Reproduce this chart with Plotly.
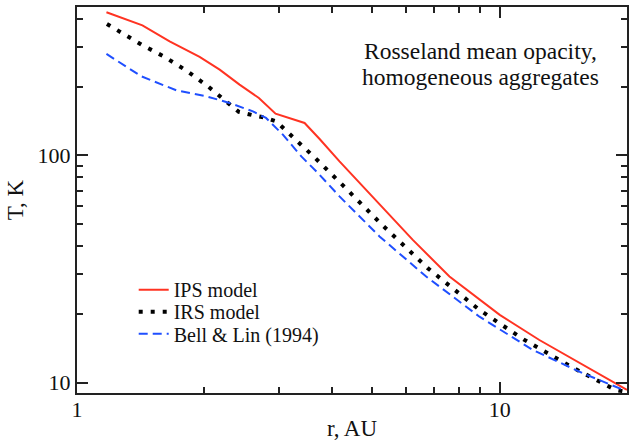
import plotly.graph_objects as go

# IPS model (red solid)
r_ips = [1.174, 1.428, 1.656, 1.950, 2.175, 2.424, 2.693, 2.949, 3.454, 3.749, 4.178, 5.195, 6.228, 7.604, 10.0, 12.41, 15.71, 20.0]
T_ips = [426.6, 373.8, 317.8, 271.3, 238.5, 204.9, 179.0, 152.7, 138.9, 118.1, 94.1, 60.7, 42.5, 29.3, 19.87, 15.4, 11.97, 9.29]

# IRS model (black dotted)
r_irs = [1.177, 1.420, 1.612, 1.820, 2.045, 2.288, 2.414, 2.588, 2.767, 2.960, 3.289, 3.467, 3.653, 4.256, 5.215, 6.756, 8.954, 11.38, 14.62, 18.77, 20.0]
T_irs = [379.0, 307.4, 271.3, 235.4, 200.7, 169.0, 155.4, 150.7, 147.0, 141.2, 117.6, 107.8, 97.7, 73.8, 50.4, 31.9, 20.9, 15.5, 11.85, 9.29, 9.1]

# Bell & Lin (1994) (blue dashed)
r_bl = [1.174, 1.420, 1.718, 2.023, 2.296, 2.607, 2.800, 3.069, 3.393, 3.713, 4.178, 5.195, 6.699, 8.954, 11.97, 15.71, 19.8]
T_bl = [279.7, 222.8, 193.4, 182.0, 170.2, 156.2, 146.2, 123.4, 99.0, 83.7, 66.0, 44.0, 29.3, 19.5, 13.93, 11.0, 9.22]

x_tickvals = [1, 10]
x_ticktext = ["1", "10"]
x_minor = [2, 3, 4, 5, 6, 7, 8, 9, 20]
y_tickvals = [10, 100]
y_ticktext = ["10", "100"]
y_minor = [20, 30, 40, 50, 60, 70, 80, 90, 200, 300, 400]

FONT = "Liberation Serif"
RED = "#ff3322"
BLUE = "#1f4fff"

fig = go.Figure()
fig.add_trace(go.Scatter(x=r_ips, y=T_ips, mode="lines", name="IPS model",
                         line=dict(color=RED, width=2), legend="legend"))
fig.add_trace(go.Scatter(x=r_irs, y=T_irs, mode="lines", name="IRS model",
                         line=dict(color="black", width=4, dash="4px,8px"), legend="legend2"))
fig.add_trace(go.Scatter(x=r_bl, y=T_bl, mode="lines", name="Bell & Lin (1994)",
                         line=dict(color=BLUE, width=2, dash="9px,5px"), legend="legend3"))

axis_common = dict(
    type="log", showgrid=False, zeroline=False, showline=True, linewidth=2,
    linecolor="#222", mirror="allticks", ticks="inside", ticklen=11, tickwidth=1.5,
    tickcolor="#222", tickfont=dict(family=FONT, size=22, color="#111"), automargin=False,
)

fig.update_xaxes(**axis_common, range=[0, 1.30103], tickvals=x_tickvals, ticktext=x_ticktext,
                 ticklabelstandoff=-4,
                 minor=dict(tickvals=x_minor, ticks="inside", ticklen=6, tickwidth=1.5, tickcolor="#222", showgrid=False),
                 title=dict(text="r, AU", font=dict(family=FONT, size=23, color="#111"), standoff=0))
fig.update_yaxes(**axis_common, range=[0.954243, 2.653213], tickvals=y_tickvals, ticktext=y_ticktext,
                 minor=dict(tickvals=y_minor, ticks="inside", ticklen=6, tickwidth=1.5, tickcolor="#222", showgrid=False),
                 title=dict(text="T, K", font=dict(family=FONT, size=23, color="#111"), standoff=8))

fig.add_annotation(text="Rosseland mean opacity,", xref="paper", yref="paper", x=0.734, y=0.887,
                   xanchor="center", yanchor="middle", showarrow=False,
                   font=dict(family=FONT, size=23.5, color="#111"))
fig.add_annotation(text="homogeneous aggregates", xref="paper", yref="paper", x=0.734, y=0.819,
                   xanchor="center", yanchor="middle", showarrow=False,
                   font=dict(family=FONT, size=23.5, color="#111"))

leg_common = dict(x=0.1031, xanchor="left", yanchor="middle", bgcolor="rgba(0,0,0,0)",
                  font=dict(family=FONT, size=20, color="#111"))

fig.update_layout(
    width=630, height=441, autosize=False,
    margin=dict(l=77, r=3, t=7, b=48),
    plot_bgcolor="white", paper_bgcolor="white",
    showlegend=True,
    legend=dict(**leg_common, y=0.2677),
    legend2=dict(**leg_common, y=0.2107),
    legend3=dict(**leg_common, y=0.1536),
)

fig.write_html("out.html")
